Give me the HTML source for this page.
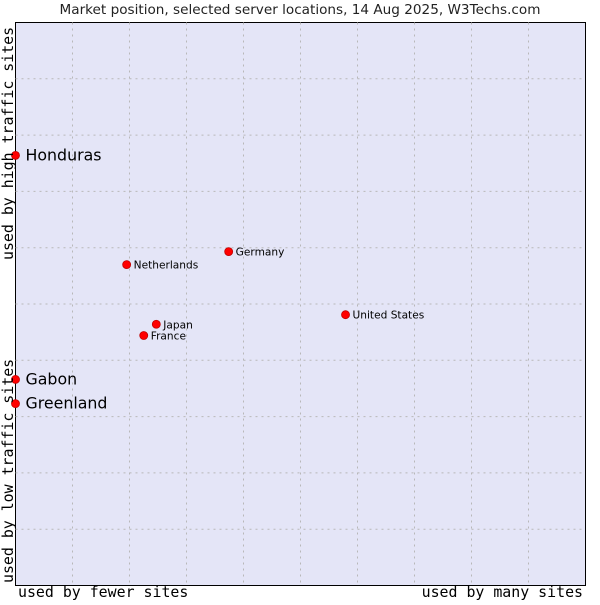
<!DOCTYPE html>
<html><head><meta charset="utf-8"><style>
body{margin:0;background:#fff;width:600px;height:600px;overflow:hidden}
svg text{font-family:"DejaVu Sans","Liberation Sans",sans-serif}
.mono{font-family:"DejaVu Sans Mono","Liberation Mono",monospace}
</style></head><body>
<svg id="chart" width="600" height="600">
<text x="300" y="14" text-anchor="middle" font-size="13.6" fill="#222">Market position, selected server locations, 14 Aug 2025, W3Techs.com</text>
<rect x="15.5" y="22.5" width="570" height="563" fill="#e4e5f7" stroke="#000"/>
<g id="grid"></g>
<g id="pts"></g>
<text class="mono" x="18" y="597" font-size="14.9" fill="#000">used by fewer sites</text>
<text class="mono" x="583" y="597" text-anchor="end" font-size="14.9" fill="#000">used by many sites</text>
<text class="mono" transform="translate(13,583) rotate(-90)" font-size="14.9" fill="#000">used by low traffic sites</text>
<text class="mono" transform="translate(13,260) rotate(-90)" font-size="14.9" fill="#000">used by high traffic sites</text>
</svg>
<script>
const names=["Honduras","Gabon","Greenland","Netherlands","Germany","United States","Japan","France"];
const xVals=[0,0,0,19.5,37.4,57.9,24.7,22.5];
const yVals=[76.4,36.6,32.3,57.0,59.3,48.1,46.4,44.4];
const bigLabel=[true,true,true,false,false,false,false,false];
const L=15.5,T=22.5,W=570,H=563;
const sx=v=>L+v/100*W, sy=v=>T+H-v/100*H;
const NS="http://www.w3.org/2000/svg";
const g=document.getElementById('grid');
for(let i=1;i<10;i++){
 let l=document.createElementNS(NS,'line');
 l.setAttribute('x1',sx(i*10));l.setAttribute('x2',sx(i*10));l.setAttribute('y1',T);l.setAttribute('y2',T+H);
 l.setAttribute('stroke','#b8b8b8');l.setAttribute('stroke-dasharray','2,4');
 
 
 g.appendChild(l);
 let h=document.createElementNS(NS,'line');
 h.setAttribute('y1',sy(i*10));h.setAttribute('y2',sy(i*10));h.setAttribute('x1',L);h.setAttribute('x2',L+W);
 h.setAttribute('stroke','#b8b8b8');h.setAttribute('stroke-dasharray','2,4');
 
 
 g.appendChild(h);
}
const p=document.getElementById('pts');
names.forEach((n,i)=>{
 const x=sx(xVals[i]),y=sy(yVals[i]);
 let c=document.createElementNS(NS,'circle');
 c.setAttribute('cx',x);c.setAttribute('cy',y);c.setAttribute('r',4);
 c.setAttribute('fill','#ff0000');c.setAttribute('stroke','#c00000');c.setAttribute('stroke-width','0.8');
 
 
 p.appendChild(c);
 let t=document.createElementNS(NS,'text');
 t.setAttribute('x',x+(bigLabel[i]?10:7));t.setAttribute('y',y+(bigLabel[i]?5:4));
 t.setAttribute('font-size',bigLabel[i]?'15.8':'10.6');t.setAttribute('fill','#000');
 t.textContent=n;
 
 
 p.appendChild(t);
});
</script>
</body></html>
